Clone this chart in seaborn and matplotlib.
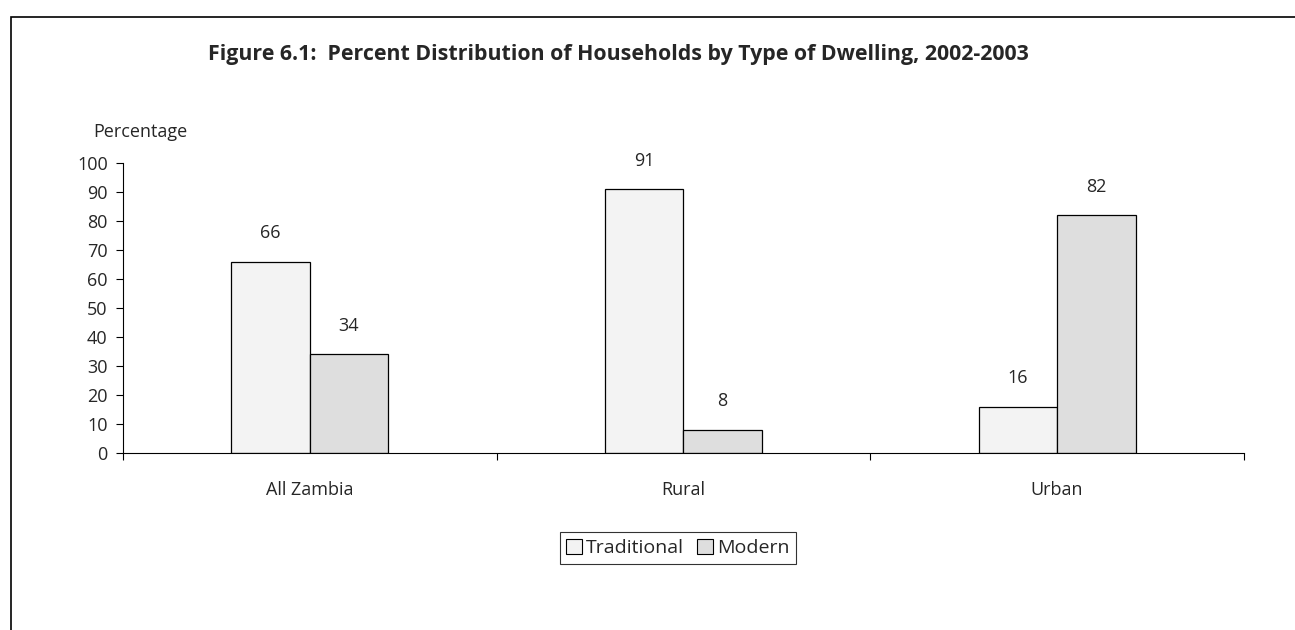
import matplotlib
matplotlib.use("Agg")
import matplotlib.pyplot as plt
from matplotlib.patches import Rectangle
import pandas as pd
import seaborn as sns

# Data
areas = ["All Zambia", "Rural", "Urban"]
traditional = [66, 91, 16]
modern = [34, 8, 82]
dwelling_types = ["Traditional", "Modern"]

df = pd.DataFrame({
    "Area": areas * 2,
    "Type": ["Traditional"] * 3 + ["Modern"] * 3,
    "Percent": traditional + modern,
})

sns.set_theme(style="white")
plt.rcParams["font.family"] = ["Open Sans", "DejaVu Sans"]

fig = plt.figure(figsize=(12.95, 6.3), dpi=100)
ax = fig.add_axes([0.095, 0.281, 0.8655, 0.46])

palette = {"Traditional": "#f3f3f3", "Modern": "#dedede"}
sns.barplot(data=df, x="Area", y="Percent", hue="Type", order=areas,
            hue_order=dwelling_types, palette=palette, width=0.42,
            edgecolor="black", linewidth=0.9, saturation=1, ax=ax)

# value labels
for container in ax.containers:
    ax.bar_label(container, fmt="%d", padding=14, fontsize=13)

ax.set_ylim(0, 100)
ax.set_xlim(-0.5, 2.5)
ax.set_yticks(range(0, 101, 10))
ax.set_xlabel("")
ax.set_ylabel("")
ax.tick_params(axis="y", which="major", left=True, length=5, width=0.8,
               color="black", labelsize=13, pad=6)
ax.tick_params(axis="x", which="major", bottom=False, labelsize=13, pad=14)
ax.set_xticks([-0.5, 0.5, 1.5, 2.5], minor=True)
ax.tick_params(axis="x", which="minor", bottom=True, length=5, width=0.8,
               color="black")
for s in ["top", "right"]:
    ax.spines[s].set_visible(False)
for s in ["left", "bottom"]:
    ax.spines[s].set_color("black")
    ax.spines[s].set_linewidth(0.8)

leg = ax.legend(loc="upper center", bbox_to_anchor=(0.495, -0.24), ncol=2,
                frameon=True, fontsize=14, handlelength=0.8, handleheight=0.8,
                handletextpad=0.2, columnspacing=0.7, borderpad=0.35,
                fancybox=False)
leg.get_frame().set_edgecolor("black")
leg.get_frame().set_linewidth(0.8)
for h in leg.legend_handles:
    h.set_edgecolor("black")
    h.set_linewidth(0.8)

fig.text(93 / 1295, 1 - 132 / 630, "Percentage", fontsize=13, va="center", ha="left")
fig.text(618 / 1295, 1 - 60 / 630,
         "Figure 6.1:  Percent Distribution of Households by Type of Dwelling, 2002-2003",
         fontsize=15.4, fontweight="bold", ha="center", va="baseline")

# outer frame (left and top edges visible)
fig.add_artist(Rectangle((11 / 1295, -0.2), 1.2, 1.2 - 17 / 630,
                         transform=fig.transFigure, fill=False,
                         edgecolor="black", linewidth=1.2))

fig.savefig("out.png", dpi=100)
